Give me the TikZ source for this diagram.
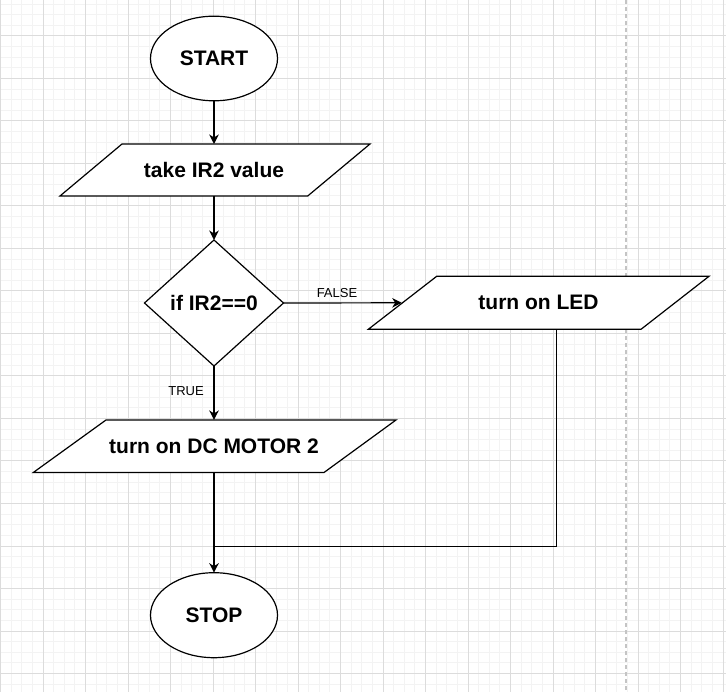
\documentclass[tikz,border=0pt]{standalone}
\usepackage{fontspec}
\setmainfont{Liberation Sans}
\usetikzlibrary{shapes.geometric,arrows.meta}
\definecolor{gridminor}{HTML}{F3F3F3}
\definecolor{gridmajor}{HTML}{DCDCDC}
\definecolor{pagedash}{HTML}{C4C4C4}
\tikzset{
  minorline/.style={draw=gridminor,line width=1pt},
  majorline/.style={draw=gridmajor,line width=1pt},
  shapeline/.style={draw=black,line width=1.2pt,fill=white,line join=miter},
  boxtext/.style={inner sep=0pt,outer sep=0pt,font=\bfseries\fontsize{21}{24}\selectfont},
  flowarrow/.style={draw=black,line width=1.2pt,-{Stealth[length=9.5pt,width=9.5pt,inset=3pt]}},
  flowline/.style={draw=black,line width=1.2pt},
  edgelabel/.style={inner sep=0pt,font=\fontsize{13}{15}\selectfont},
}
\begin{document}
\begin{tikzpicture}[x=1pt,y=-1pt]
\useasboundingbox (0,0) rectangle (726,692);
\fill[white] (0,0) rectangle (726,692);
% grid
\foreach \i in {0,...,68} \draw[minorline] ({0.5+10.625*\i},0) -- ({0.5+10.625*\i},692);
\foreach \j in {0,...,64} \draw[minorline] (0,{4.125+10.625*\j}) -- (726,{4.125+10.625*\j});
\foreach \i in {0,...,17} \draw[majorline] ({0.5+42.5*\i},0) -- ({0.5+42.5*\i},692);
\foreach \j in {0,...,15} \draw[majorline] (0,{36+42.5*\j}) -- (726,{36+42.5*\j});
\draw[pagedash,line width=1.2pt,dash pattern=on 4pt off 3pt] (626,0) -- (626,692);

% shapes
\node[ellipse,shapeline,minimum width=127pt,minimum height=84.6pt,inner sep=0pt,outer sep=0pt,
      font=\bfseries\fontsize{21}{24}\selectfont] (start) at (214,58.5) {START};

\draw[shapeline] (122,144) -- (370,144) -- (307.7,196) -- (60,196) -- cycle;
\node[boxtext,minimum width=180pt,minimum height=52pt] (ir) at (214,170) {take IR2 value};

\node[diamond,shapeline,aspect=1.103,minimum width=139pt,minimum height=126pt,inner sep=0pt,outer sep=0pt,
      font=\bfseries\fontsize{21}{24}\selectfont] (dia) at (214,303) {if IR2==0};

\draw[shapeline] (436.7,276.3) -- (709,276.3) -- (641,329.3) -- (368.3,329.3) -- cycle;
\node[boxtext,minimum width=200pt,minimum height=53pt] (led) at (538.5,302.8) {turn on LED};
\coordinate (ledin) at (401.7,302.8);
\coordinate (ledout) at (556.7,329.3);
\coordinate (joinpt) at (214,546.7);

\draw[shapeline] (106,420) -- (396,420) -- (324,472.5) -- (33.3,472.5) -- cycle;
\node[boxtext,minimum width=230pt,minimum height=52.5pt] (motor) at (214,446.2) {turn on DC MOTOR 2};

\node[ellipse,shapeline,minimum width=127pt,minimum height=85pt,inner sep=0pt,outer sep=0pt,
      font=\bfseries\fontsize{21}{24}\selectfont] (stop) at (214,615.2) {STOP};

% connectors
\draw[flowarrow] (start.south) -- (ir.north);
\draw[flowarrow] (ir.south) -- (dia.north);
\draw[flowarrow] (dia.east) -- (ledin);
\draw[flowarrow] (dia.south) -- (motor.north);
\draw[flowarrow] (motor.south) -- (stop.north);
\draw[flowline] (ledout) -- (ledout |- joinpt) -- (joinpt);

% labels
\node[edgelabel] (falselbl) at (337,293) {FALSE};
\node[edgelabel] (truelbl) at (186,391) {TRUE};
\end{tikzpicture}
\end{document}
